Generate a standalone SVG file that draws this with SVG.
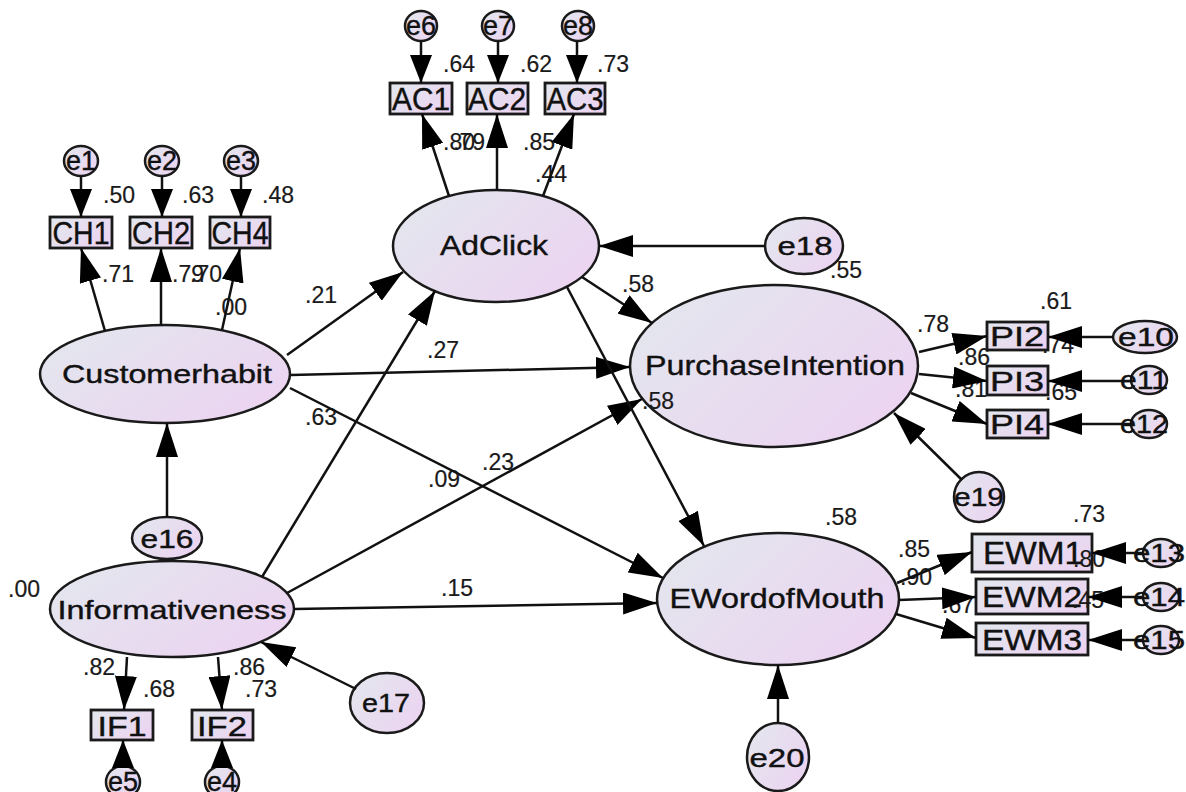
<svg xmlns="http://www.w3.org/2000/svg" width="1186" height="792" viewBox="0 0 1186 792">
<style>
.n{fill:url(#g);stroke:#1a1a1a;stroke-width:2.5}
.b{fill:url(#g);stroke:#1a1a1a;stroke-width:2.8}
.t{font-family:"Liberation Sans",Arial,sans-serif;fill:#111;text-anchor:middle;stroke:#111;stroke-width:0.4}
.v{font-family:"Liberation Sans",Arial,sans-serif;fill:#1a1a1a;font-size:23px;stroke:#1a1a1a;stroke-width:0.2}
.c line{stroke:#111;stroke-width:2.5;marker-end:url(#ah)}
.c line.s{marker-end:url(#as)}
</style>
<defs>
<linearGradient id="g" x1="0" y1="0.2" x2="1" y2="0.8">
<stop offset="0" stop-color="#e3e6ee"/>
<stop offset="1" stop-color="#ecd3f1"/>
</linearGradient>
<marker id="ah" markerUnits="userSpaceOnUse" markerWidth="34" markerHeight="22" refX="34" refY="11" orient="auto"><path d="M0,0 L34,11 L0,22 z" fill="#000"/></marker>
<marker id="as" markerUnits="userSpaceOnUse" markerWidth="28" markerHeight="22" refX="28" refY="11" orient="auto"><path d="M0,0 L28,11 L0,22 z" fill="#000"/></marker>
</defs>
<rect width="1186" height="792" fill="#fff"/>

<g id="AdClick"><ellipse class="n" cx="496" cy="246" rx="103" ry="56"/><text class="t" x="494" y="255" font-size="28" textLength="108" lengthAdjust="spacingAndGlyphs">AdClick</text></g>
<g id="Customerhabit"><ellipse class="n" cx="165" cy="374" rx="125" ry="49"/><text class="t" x="167" y="383" font-size="26" textLength="210" lengthAdjust="spacingAndGlyphs">Customerhabit</text></g>
<g id="Informativeness"><ellipse class="n" cx="172" cy="609" rx="122" ry="48"/><text class="t" x="172" y="619" font-size="26" textLength="229" lengthAdjust="spacingAndGlyphs">Informativeness</text></g>
<g id="PurchaseIntention"><ellipse class="n" cx="774" cy="366" rx="144" ry="81"/><text class="t" x="775" y="375" font-size="28" textLength="260" lengthAdjust="spacingAndGlyphs">PurchaseIntention</text></g>
<g id="EWordofMouth"><ellipse class="n" cx="778" cy="599" rx="121" ry="66"/><text class="t" x="777" y="608" font-size="28" textLength="215" lengthAdjust="spacingAndGlyphs">EWordofMouth</text></g>

<g id="AC1"><rect class="b" x="390" y="83" width="62" height="31"/><text class="t" x="421" y="110" font-size="31" textLength="58" lengthAdjust="spacingAndGlyphs">AC1</text></g>
<g id="AC2"><rect class="b" x="467" y="83" width="61" height="31"/><text class="t" x="497" y="110" font-size="31" textLength="58" lengthAdjust="spacingAndGlyphs">AC2</text></g>
<g id="AC3"><rect class="b" x="545" y="83" width="60" height="31"/><text class="t" x="575" y="110" font-size="31" textLength="57" lengthAdjust="spacingAndGlyphs">AC3</text></g>
<g id="CH1"><rect class="b" x="50" y="217" width="62" height="31"/><text class="t" x="81" y="244" font-size="31" textLength="57" lengthAdjust="spacingAndGlyphs">CH1</text></g>
<g id="CH2"><rect class="b" x="130" y="217" width="62" height="31"/><text class="t" x="161" y="244" font-size="31" textLength="58" lengthAdjust="spacingAndGlyphs">CH2</text></g>
<g id="CH4"><rect class="b" x="210" y="217" width="60" height="31"/><text class="t" x="240" y="244" font-size="31" textLength="57" lengthAdjust="spacingAndGlyphs">CH4</text></g>
<g id="PI2"><rect class="b" x="987" y="322" width="61" height="28"/><text class="t" x="1017" y="346" font-size="28" textLength="54" lengthAdjust="spacingAndGlyphs">PI2</text></g>
<g id="PI3"><rect class="b" x="987" y="366" width="61" height="29"/><text class="t" x="1017" y="391" font-size="28" textLength="54" lengthAdjust="spacingAndGlyphs">PI3</text></g>
<g id="PI4"><rect class="b" x="987" y="410" width="61" height="28"/><text class="t" x="1017" y="434" font-size="28" textLength="54" lengthAdjust="spacingAndGlyphs">PI4</text></g>
<g id="EWM1"><rect class="b" x="972" y="534" width="120" height="38"/><text class="t" x="1033" y="564" font-size="31" textLength="100" lengthAdjust="spacingAndGlyphs">EWM1</text></g>
<g id="EWM2"><rect class="b" x="976" y="579" width="112" height="35"/><text class="t" x="1032" y="607" font-size="30" textLength="100" lengthAdjust="spacingAndGlyphs">EWM2</text></g>
<g id="EWM3"><rect class="b" x="976" y="623" width="112" height="32"/><text class="t" x="1032" y="650" font-size="30" textLength="100" lengthAdjust="spacingAndGlyphs">EWM3</text></g>
<g id="IF1"><rect class="b" x="91" y="710" width="62" height="30"/><text class="t" x="122" y="736" font-size="28" textLength="49" lengthAdjust="spacingAndGlyphs">IF1</text></g>
<g id="IF2"><rect class="b" x="192" y="710" width="61" height="30"/><text class="t" x="222" y="736" font-size="28" textLength="50" lengthAdjust="spacingAndGlyphs">IF2</text></g>

<g id="e1"><ellipse class="n" cx="81" cy="161" rx="17" ry="15"/><text class="t" x="81" y="170" font-size="27">e1</text></g>
<g id="e2"><ellipse class="n" cx="162" cy="161" rx="17" ry="15"/><text class="t" x="162" y="170" font-size="27">e2</text></g>
<g id="e3"><ellipse class="n" cx="241" cy="161" rx="17" ry="15"/><text class="t" x="241" y="170" font-size="27">e3</text></g>
<g id="e6"><ellipse class="n" cx="421" cy="26" rx="16" ry="15"/><text class="t" x="421" y="35" font-size="27">e6</text></g>
<g id="e7"><ellipse class="n" cx="498" cy="26" rx="16" ry="15"/><text class="t" x="498" y="35" font-size="27">e7</text></g>
<g id="e8"><ellipse class="n" cx="578" cy="26" rx="16" ry="15"/><text class="t" x="578" y="35" font-size="27">e8</text></g>
<g id="e5"><ellipse class="n" cx="123" cy="782" rx="17" ry="16"/><text class="t" x="123" y="791" font-size="27">e5</text></g>
<g id="e4"><ellipse class="n" cx="222" cy="782" rx="17" ry="16"/><text class="t" x="222" y="791" font-size="27">e4</text></g>
<g id="e10"><ellipse class="n" cx="1145" cy="337" rx="32" ry="16"/><text class="t" x="1146" y="346" font-size="26" textLength="56" lengthAdjust="spacingAndGlyphs">e10</text></g>
<g id="e11"><ellipse class="n" cx="1149" cy="380" rx="18" ry="14"/><text class="t" x="1144" y="389" font-size="26" textLength="48" lengthAdjust="spacingAndGlyphs">e11</text></g>
<g id="e12"><ellipse class="n" cx="1149" cy="424" rx="18" ry="14"/><text class="t" x="1144" y="433" font-size="26" textLength="48" lengthAdjust="spacingAndGlyphs">e12</text></g>
<g id="e13"><ellipse class="n" cx="1161" cy="553" rx="18" ry="14"/><text class="t" x="1159" y="562" font-size="26" textLength="52" lengthAdjust="spacingAndGlyphs">e13</text></g>
<g id="e14"><ellipse class="n" cx="1161" cy="597" rx="18" ry="14"/><text class="t" x="1159" y="606" font-size="26" textLength="52" lengthAdjust="spacingAndGlyphs">e14</text></g>
<g id="e15"><ellipse class="n" cx="1161" cy="640" rx="18" ry="14"/><text class="t" x="1159" y="649" font-size="26" textLength="52" lengthAdjust="spacingAndGlyphs">e15</text></g>
<g id="e16"><ellipse class="n" cx="167" cy="538" rx="35" ry="21"/><text class="t" x="167" y="548" font-size="26" textLength="53" lengthAdjust="spacingAndGlyphs">e16</text></g>
<g id="e17"><ellipse class="n" cx="387" cy="703" rx="37" ry="30"/><text class="t" x="386" y="712" font-size="26" textLength="48" lengthAdjust="spacingAndGlyphs">e17</text></g>
<g id="e18"><ellipse class="n" cx="804" cy="246" rx="39" ry="28"/><text class="t" x="805" y="255" font-size="26" textLength="55" lengthAdjust="spacingAndGlyphs">e18</text></g>
<g id="e19"><ellipse class="n" cx="979" cy="497" rx="25" ry="25"/><text class="t" x="979" y="506" font-size="26" textLength="50" lengthAdjust="spacingAndGlyphs">e19</text></g>
<g id="e20"><ellipse class="n" cx="778" cy="757" rx="31" ry="34"/><text class="t" x="777" y="767" font-size="26" textLength="55" lengthAdjust="spacingAndGlyphs">e20</text></g>

<g id="labels">
<text class="v" x="443" y="72">.64</text><text class="v" x="520" y="72">.62</text><text class="v" x="597" y="72">.73</text>
<text class="v" x="443" y="150">.80</text><text class="v" x="453" y="150">.79</text><text class="v" x="523" y="150">.85</text><text class="v" x="535" y="182">.44</text>
<text class="v" x="103" y="203">.50</text><text class="v" x="182" y="203">.63</text><text class="v" x="262" y="203">.48</text>
<text class="v" x="102" y="282">.71</text><text class="v" x="172" y="282">.79</text><text class="v" x="190" y="282">.70</text><text class="v" x="215" y="315">.00</text>
<text class="v" x="305" y="303">.21</text><text class="v" x="427" y="358">.27</text><text class="v" x="305" y="425">.63</text>
<text class="v" x="428" y="487">.09</text><text class="v" x="482" y="470">.23</text>
<text class="v" x="622" y="292">.58</text><text class="v" x="642" y="409">.58</text><text class="v" x="830" y="278">.55</text>
<text class="v" x="825" y="525">.58</text><text class="v" x="441" y="596">.15</text><text class="v" x="8" y="597">.00</text>
<text class="v" x="1040" y="309">.61</text><text class="v" x="917" y="332">.78</text><text class="v" x="958" y="365">.86</text>
<text class="v" x="1042" y="353">.74</text><text class="v" x="955" y="397">.81</text><text class="v" x="1045" y="400">.65</text>
<text class="v" x="1073" y="522">.73</text><text class="v" x="898" y="557">.85</text><text class="v" x="900" y="585">.90</text>
<text class="v" x="1073" y="567">.80</text><text class="v" x="1072" y="608">.45</text><text class="v" x="942" y="613">.67</text>
<text class="v" x="83" y="675">.82</text><text class="v" x="143" y="697">.68</text><text class="v" x="233" y="675">.86</text><text class="v" x="245" y="697">.73</text>
</g>

<g id="connectors" class="c">
<line x1="287" y1="355" x2="403" y2="272"/>
<line x1="291" y1="375" x2="630" y2="367"/>
<line x1="290" y1="388" x2="663" y2="578"/>
<line x1="262" y1="577" x2="435" y2="291"/>
<line x1="287" y1="593" x2="642" y2="399"/>
<line x1="294" y1="609" x2="657" y2="603"/>
<line x1="582" y1="277" x2="652" y2="323"/>
<line x1="567" y1="287" x2="704" y2="546"/>
<line x1="167" y1="517" x2="167" y2="423"/>
<line x1="356" y1="689" x2="261" y2="642"/>
<line x1="765" y1="246" x2="599" y2="246"/>
<line x1="962" y1="480" x2="894" y2="413"/>
<line x1="778" y1="723" x2="778" y2="665"/>
<line x1="449" y1="196" x2="422" y2="114"/>
<line x1="497" y1="190" x2="497" y2="114"/>
<line x1="543" y1="196" x2="574" y2="114"/>
<line class="s" x1="421" y1="41" x2="421" y2="83"/>
<line class="s" x1="498" y1="41" x2="498" y2="83"/>
<line class="s" x1="577" y1="41" x2="577" y2="83"/>
<line x1="105" y1="331" x2="81" y2="248"/>
<line x1="161" y1="325" x2="161" y2="248"/>
<line x1="222" y1="330" x2="240" y2="248"/>
<line class="s" x1="81" y1="176" x2="81" y2="217"/>
<line class="s" x1="162" y1="176" x2="162" y2="217"/>
<line class="s" x1="241" y1="176" x2="241" y2="217"/>
<line x1="919" y1="352" x2="987" y2="336"/>
<line x1="919" y1="374" x2="987" y2="381"/>
<line x1="911" y1="393" x2="987" y2="424"/>
<line x1="1113" y1="337" x2="1048" y2="337"/>
<line x1="1131" y1="381" x2="1048" y2="381"/>
<line x1="1131" y1="424" x2="1048" y2="424"/>
<line x1="897" y1="583" x2="972" y2="552"/>
<line x1="899" y1="600" x2="976" y2="597"/>
<line x1="896" y1="614" x2="976" y2="638"/>
<line x1="1143" y1="553" x2="1092" y2="553"/>
<line x1="1143" y1="597" x2="1088" y2="597"/>
<line x1="1143" y1="640" x2="1088" y2="640"/>
<line x1="127" y1="657" x2="124" y2="710"/>
<line x1="218" y1="657" x2="222" y2="710"/>
<line class="s" x1="123" y1="766" x2="123" y2="740"/>
<line class="s" x1="222" y1="766" x2="222" y2="740"/>
</g>
</svg>
